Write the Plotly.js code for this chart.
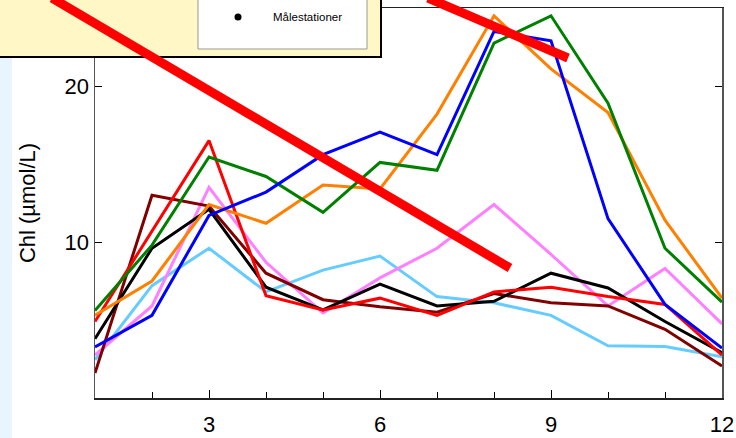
<!DOCTYPE html>
<html>
<head>
<meta charset="utf-8">
<script src="https://cdn.plot.ly/plotly-3.0.1.min.js"></script>
<style>
  html, body { margin: 0; padding: 0; background: #fff; }
  #chart { width: 736px; height: 438px; }
</style>
</head>
<body>
<div id="chart"></div>
<script>
// Month index along the x axis
const months = [1, 2, 3, 4, 5, 6, 7, 8, 9, 10, 11, 12];

// Chlorophyll concentration per station (µmol/L)
const seriesLightBlue = [2.45, 7.2, 9.6, 6.8, 8.2, 9.1, 6.5, 6.1, 5.3, 3.35, 3.3, 2.65];
const seriesPink      = [2.75, 5.9, 13.5, 8.7, 5.45, 7.7, 9.6, 12.4, 9.2, 5.9, 8.3, 4.75];
const seriesMaroon    = [1.6, 13.0, 12.3, 8.0, 6.3, 5.85, 5.5, 6.7, 6.1, 5.9, 4.4, 2.05];
const seriesBlack     = [3.8, 9.6, 12.1, 7.1, 5.65, 7.3, 5.9, 6.2, 8.0, 7.05, 4.9, 2.9];
const seriesRed       = [4.9, 10.7, 16.5, 6.55, 5.65, 6.4, 5.3, 6.8, 7.1, 6.5, 6.0, 2.75];
const seriesOrange    = [5.3, 7.5, 12.4, 11.2, 13.65, 13.4, 18.2, 24.5, 21.1, 18.3, 11.4, 6.4];
const seriesGreen     = [5.6, 9.8, 15.45, 14.2, 11.9, 15.1, 14.6, 22.75, 24.5, 18.9, 9.6, 6.15];
const seriesBlue      = [3.27, 5.3, 11.7, 13.2, 15.6, 17.05, 15.6, 23.5, 22.9, 11.5, 6.0, 3.2];

// Tick labels
const xTickVals = [3, 6, 9, 12];
const yTickVals = [10, 20];
const yTitle = 'Chl (µmol/L)';
const legendLabel = 'Målestationer';

const FONT = '"Liberation Sans", Arial, sans-serif';

function line(y, color) {
  return {
    x: months, y: y, type: 'scatter', mode: 'lines',
    line: { color: color, width: 3 },
    showlegend: false, hoverinfo: 'skip'
  };
}

const traces = [
  line(seriesLightBlue, '#66CCFF'),
  line(seriesPink, '#FF80FF'),
  line(seriesMaroon, '#800000'),
  line(seriesBlack, '#000000'),
  line(seriesRed, '#FF0000'),
  line(seriesOrange, '#FF8000'),
  line(seriesGreen, '#008000'),
  line(seriesBlue, '#0000FF')
];

// Plot area in pixels: left 95, right 722, top 8, bottom 398
const L = 95, R = 722, T = 8, B = 398;
const px = v => (v - L) / (R - L);
const py = v => (B - v) / (B - T);

const shapes = [
  // side strip
  { type: 'rect', xref: 'paper', yref: 'paper', layer: 'below',
    x0: px(-2), x1: px(12), y0: py(440), y1: py(57),
    fillcolor: '#E8F4FE', line: { width: 0 } },
  // info panel
  { type: 'rect', xref: 'paper', yref: 'paper', layer: 'above',
    x0: px(-6), x1: px(381), y0: py(57), y1: py(-6),
    fillcolor: '#FFF8C6', line: { color: '#000000', width: 2 } },
  // key box
  { type: 'rect', xref: 'paper', yref: 'paper', layer: 'above',
    x0: px(198), x1: px(367), y0: py(49), y1: py(-4),
    fillcolor: '#FFFFFF', line: { color: '#999999', width: 1 } },
  // key marker
  { type: 'circle', xref: 'paper', yref: 'paper', layer: 'above',
    x0: px(234.5), x1: px(241.5), y0: py(20.5), y1: py(13.5),
    fillcolor: '#000000', line: { width: 0 } },
  // strike-through strokes
  { type: 'line', xref: 'paper', yref: 'paper', layer: 'above',
    x0: px(52), y0: py(-2), x1: px(510), y1: py(268),
    line: { color: '#FF0000', width: 9 } },
  { type: 'line', xref: 'paper', yref: 'paper', layer: 'above',
    x0: px(428), y0: py(-2), x1: px(568), y1: py(58),
    line: { color: '#FF0000', width: 9 } }
];

const annotations = [
  { xref: 'paper', yref: 'paper', x: px(307), y: py(17),
    text: legendLabel, showarrow: false, xanchor: 'center', yanchor: 'middle',
    font: { family: '"Liberation Sans Narrow", "Liberation Sans", Arial, sans-serif', size: 11.5, color: '#000' } }
];

const layout = {
  width: 736, height: 438,
  margin: { l: L, r: 736 - R, t: T, b: 438 - B, pad: 0 },
  paper_bgcolor: '#FFFFFF', plot_bgcolor: '#FFFFFF',
  showlegend: false,
  font: { family: FONT, color: '#000' },
  xaxis: {
    range: [1, 12], tickvals: xTickVals, ticktext: xTickVals.map(String),
    ticks: 'inside', ticklen: 8, tickwidth: 1, tickcolor: '#000',
    ticklabelstandoff: 6,
    minor: { dtick: 1, tick0: 1, ticks: 'inside', ticklen: 6, tickwidth: 1, tickcolor: '#000' },
    showline: true, linecolor: '#222', linewidth: 1.5, mirror: true,
    showgrid: false, zeroline: false, fixedrange: true,
    tickfont: { family: FONT, size: 22, color: '#000' }
  },
  yaxis: {
    range: [0, 25], tickvals: yTickVals, ticktext: yTickVals.map(String),
    ticks: 'inside', ticklen: 7, tickwidth: 1, tickcolor: '#000',
    showline: true, linecolor: '#555', linewidth: 1.5, mirror: 'ticks',
    showgrid: false, zeroline: false, fixedrange: true,
    tickfont: { family: FONT, size: 22, color: '#000' },
    title: { text: yTitle, font: { family: FONT, size: 22, color: '#000' }, standoff: 23 }
  },
  shapes: shapes,
  annotations: annotations
};

Plotly.newPlot('chart', traces, layout, { staticPlot: true, displayModeBar: false });
</script>
</body>
</html>
